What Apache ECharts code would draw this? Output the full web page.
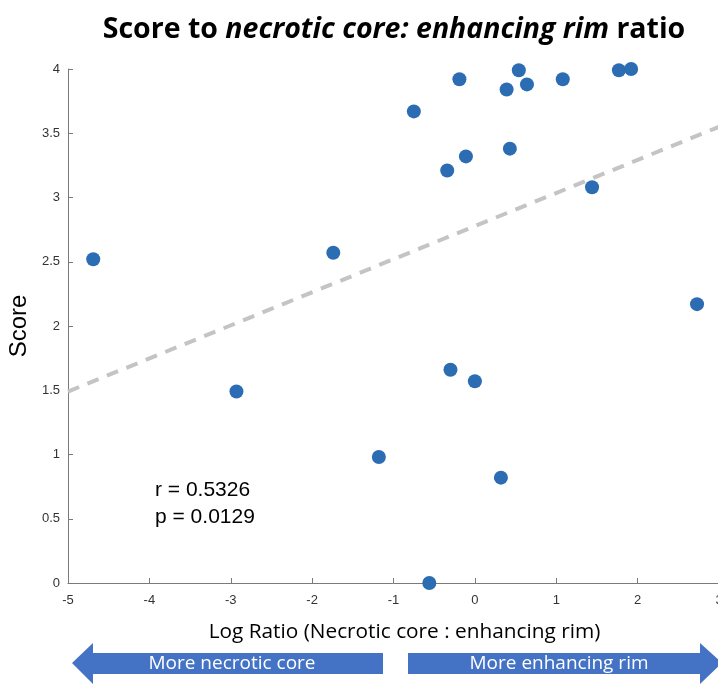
<!DOCTYPE html>
<html>
<head>
<meta charset="utf-8">
<script src="https://cdn.jsdelivr.net/npm/echarts@6/dist/echarts.min.js"></script>
<style>
html,body{margin:0;padding:0;background:#fff;}
#chart{width:718px;height:684px;}
</style>
</head>
<body>
<div id="chart"></div>
<script>
// Data
const logRatio = [-4.69, -2.93, -1.74, -1.18, -0.75, -0.19, 0.54, 0.39, 0.64, 1.08, 1.77, 1.92,
                  -0.34, -0.11, 0.43, 1.44, 2.73, -0.30, 0.00, 0.32, -0.56];
const score    = [2.52, 1.49, 2.57, 0.98, 3.67, 3.92, 3.99, 3.84, 3.88, 3.92, 3.99, 4.00,
                  3.21, 3.32, 3.38, 3.08, 2.17, 1.66, 1.57, 0.82, 0.00];
const fitX = [-5, 3];
const fitY = [1.49, 3.55];
const xTicks = [-5, -4, -3, -2, -1, 0, 1, 2, 3];
const yTicks = [0, 0.5, 1, 1.5, 2, 2.5, 3, 3.5, 4];
const statsText = ['r = 0.5326', 'p = 0.0129'];
const arrowLabels = ['More necrotic core', 'More enhancing rim'];

const points = logRatio.map((x, i) => [x, score[i]]);
const fitLine = fitX.map((x, i) => [x, fitY[i]]);

const chart = echarts.init(document.getElementById('chart'), null, {renderer: 'canvas'});
const axisGray = '#7a7a7a';
const blue = '#4472C4';

chart.setOption({
  animation: false,
  backgroundColor: '#fff',
  title: {
    text: '{a|Score to }{b|necrotic core: enhancing rim}{a| ratio}',
    left: 389, top: 10, textAlign: 'center',
    textStyle: {
      rich: {
        a: {fontFamily: 'Open Sans', fontWeight: 'bold', fontSize: 28.5, color: '#000'},
        b: {fontFamily: 'Open Sans', fontWeight: 'bold', fontStyle: 'italic', fontSize: 28.5, color: '#000'}
      }
    }
  },
  grid: {left: 68, top: 69, width: 651, height: 514, containLabel: false, outerBoundsMode: 'none'},
  xAxis: {
    type: 'value', min: -5, max: 3, interval: 1,
    name: 'Log Ratio (Necrotic core : enhancing rim)',
    nameLocation: 'middle', nameGap: 39,
    nameTextStyle: {fontFamily: 'Open Sans', fontSize: 20.8, color: '#000', padding: [0, 0, 0, 22]},
    axisLine: {show: true, onZero: false, lineStyle: {color: axisGray, width: 1}},
    axisTick: {show: true, inside: true, length: 5, lineStyle: {color: axisGray}},
    axisLabel: {fontFamily: 'Liberation Sans', fontSize: 13, color: '#333', margin: 11,
      formatter: v => xTicks.includes(v) ? String(v) : ''},
    splitLine: {show: false}
  },
  yAxis: {
    type: 'value', min: 0, max: 4, interval: 0.5,
    name: 'Score', nameLocation: 'middle', nameGap: 34, nameRotate: 90,
    nameTextStyle: {fontFamily: 'Liberation Sans', fontSize: 24, color: '#000'},
    axisLine: {show: true, onZero: false, lineStyle: {color: axisGray, width: 1}},
    axisTick: {show: true, inside: true, length: 5, lineStyle: {color: axisGray}},
    axisLabel: {fontFamily: 'Liberation Sans', fontSize: 13, color: '#333', margin: 8,
      formatter: v => yTicks.includes(v) ? String(v) : ''},
    splitLine: {show: false}
  },
  series: [
    {
      type: 'line', data: fitLine, symbol: 'none', silent: true,
      lineStyle: {color: '#c4c4c4', width: 4, type: [12, 9]}, z: 1
    },
    {
      type: 'scatter', data: points, symbol: 'circle', symbolSize: 14, clip: false,
      itemStyle: {color: '#2B6CB3', opacity: 1}, z: 3
    }
  ],
  graphic: [
    {type: 'text', x: 155, y: 490, style: {text: statsText[0], font: '21px "Liberation Sans"', fill: '#000', verticalAlign: 'middle'}},
    {type: 'text', x: 155, y: 517, style: {text: statsText[1], font: '21px "Liberation Sans"', fill: '#000', verticalAlign: 'middle'}},
    {type: 'polygon', shape: {points: [[72, 663], [93, 643], [93, 653], [383, 653], [383, 674], [93, 674], [93, 684]]},
      style: {fill: blue}},
    {type: 'polygon', shape: {points: [[408, 653], [700, 653], [700, 643], [722, 663], [700, 684], [700, 674], [408, 674]]},
      style: {fill: blue}},
    {type: 'text', x: 232, y: 664, style: {text: arrowLabels[0], font: '19px "Open Sans"', fill: '#fff', align: 'center', verticalAlign: 'middle'}},
    {type: 'text', x: 559, y: 664, style: {text: arrowLabels[1], font: '19px "Open Sans"', fill: '#fff', align: 'center', verticalAlign: 'middle'}}
  ]
});
</script>
</body>
</html>
